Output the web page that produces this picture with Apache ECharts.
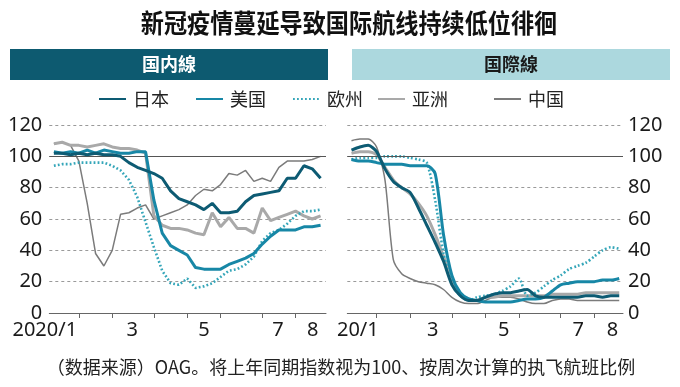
<!DOCTYPE html>
<html><head><meta charset="utf-8">
<script src="https://cdn.jsdelivr.net/npm/echarts@6/dist/echarts.min.js"></script>
<style>html,body{margin:0;padding:0;background:#fff}#c{width:680px;height:387px}</style>
</head><body><div id="c"></div>
<script>
// weekly data points (Monday weeks), index 0 = 2020/1/13 ... index 32 = 2020/8/24
const weeks = ['1/13','1/20','1/27','2/3','2/10','2/17','2/24','3/2','3/9','3/16','3/23','3/30','4/6','4/13','4/20','4/27','5/4','5/11','5/18','5/25','6/1','6/8','6/15','6/22','6/29','7/6','7/13','7/20','7/27','8/3','8/10','8/17','8/24'];
const seriesNames = ['日本','美国','欧州','亚洲','中国'];

// 国内線
const domJapan = [102,102,101,102,101,102,101,101,100,96,93,91,89,86,78,73,71,69,66,70,64,64,65,71,75,76,77,78,86,86,94,92,86];
const domUS    = [103,102,103,102,104,102,104,103,102,102,103,103,72,51,43,40,37,29,28,28,28,31,33,35,38,44,49,53,53,53,55,55,56];
const domEU    = [94,95,95,96,96,96,96,94,91,85,74,58,42,27,19,18,22,16,17,19,23,27,28,31,36,46,51,53,57,62,65,65,66];
const domAsia  = [108,109,107,107,106,107,108,106,105,105,104,102,62,56,54,54,53,51,50,64,55,61,54,54,51,67,59,61,63,65,62,60,62];
const domChina = [108,109,107,97,70,38,30,40,63,64,67,69,60,62,64,66,69,75,79,78,82,89,88,91,84,86,84,93,97,97,97,98,100];

// 国際線
const intJapan = [104,106,107,103,92,84,80,77,67,56,45,33,18,11,8,8,10,12,13,13,14,15,11,10,10,10,10,10,11,11,10,11,11];
const intUS    = [98,97,97,96,95,95,95,94,94,94,89,50,24,13,9,8,7,7,7,7,8,9,9,10,14,18,19,20,20,20,21,21,22];
const intEU    = [98,99,99,99,100,100,100,99,98,96,72,38,19,11,8,10,11,12,14,17,22,11,13,17,21,24,28,30,32,36,40,42,41];
const intAsia  = [102,103,103,101,93,85,80,76,70,62,50,36,22,12,9,8,10,10,11,11,11,11,11,11,12,12,12,12,13,13,13,13,13];
const intChina = [110,111,111,106,85,34,25,22,20,19,18,15,10,7,6,6,8,10,10,10,9,7,6,6,8,9,9,8,8,8,8,8,8];

// month boundary ticks (first week of Feb..Aug) and month labels
const monthTickIdx = [3,7,12,16,20,25,29];
const labelsL = ['2020/1','3','5','7','8'];
const labelPosL = [-0.55,9.4,18.0,26.9,31.05];
const labelsR = ['20/1','3','5','7','8'];
const labelPosR = [0.76,9.7,18.2,27.1,31.2];
const yTicks = [0,20,40,60,80,100,120];
const baseline = 100;

const colors = {'日本':'#0d5b73','美国':'#1787a6','欧州':'#35a6b9','亚洲':'#a9a9a9','中国':'#7b7b7b'};
const styles = {
  '日本':{width:3},
  '美国':{width:3},
  '欧州':{width:2.6,type:[1.8,2.2]},
  '亚洲':{width:3},
  '中国':{width:1.5}
};

function pts(arr){ return arr.map((v,i)=>[i,v]); }

const chart = echarts.init(document.getElementById('c'), null, {renderer:'canvas'});

const numFont = 'Noto Sans';
const cjk = '"Noto Sans CJK SC"';

function xAxis(grid, min, max, labels, pos){
  return {
    type:'value', gridIndex:grid, min:min, max:max,
    axisLine:{show:true, onZero:false, lineStyle:{color:'#666', width:1}},
    axisTick:{show:true, customValues:monthTickIdx, length:5, lineStyle:{color:'#666', width:1}},
    axisLabel:{show:true, customValues:pos, margin:7, fontSize:20, color:'#1a1a1a', fontFamily:numFont,
      formatter:function(v){ const k = pos.indexOf(v); const t = k>=0?labels[k]:''; return k===0 && grid===0 ? '{s|'+t+'}' : t; },
      rich:{s:{fontSize:20, color:'#1a1a1a', fontFamily:numFont, padding:[0,9,0,0]}}},
    splitLine:{show:false}
  };
}
function yAxis(grid, side, margin){
  return {
    type:'value', gridIndex:grid, min:yTicks[0], max:yTicks[yTicks.length-1], interval:20, position:side,
    axisLine:{show:false}, axisTick:{show:false},
    axisLabel:{fontSize:20, color:'#1a1a1a', fontFamily:numFont, margin:margin},
    splitLine:{show:true, lineStyle:{color:'#9a9a9a', width:1, type:[3,3]}}
  };
}

const order = ['中国','亚洲','欧州','美国','日本'];
const dom = {'日本':domJapan,'美国':domUS,'欧州':domEU,'亚洲':domAsia,'中国':domChina};
const intl = {'日本':intJapan,'美国':intUS,'欧州':intEU,'亚洲':intAsia,'中国':intChina};

const series = [];
[0,1].forEach(g=>{
  const src = g===0?dom:intl;
  order.forEach((n,k)=>{
    const s = {
      name:n, type:'line', xAxisIndex:g, yAxisIndex:g, data:pts(src[n]),
      symbol:'none', smooth:g===1?0.25:false, animation:false,
      lineStyle:Object.assign({color:colors[n]}, styles[n]),
      itemStyle:{color:colors[n]}, z:2+k
    };
    if(k===0){
      s.markLine = {silent:true, symbol:'none', animation:false, label:{show:false},
        lineStyle:{color:'#555', width:1.2, type:'solid'}, data:[{yAxis:baseline}]};
    }
    series.push(s);
  });
});

const legendLeft = [98,195,292,377,493];
const legends = seriesNames.map((n,i)=>({
  data:[n], left:legendLeft[i], top:90, padding:0, itemWidth:27, itemHeight:2, selectedMode:false,
  itemStyle:{opacity:0, borderWidth:0},
  textStyle:{fontSize:18, color:'#222', fontFamily:cjk, padding:[0,0,0,2]}
}));

chart.setOption({
  backgroundColor:'#fff',
  animation:false,
  legend:legends,
  grid:[
    {left:49.3, top:125, width:276.7, height:188},
    {left:347.3, top:125, width:275.7, height:188}
  ],
  xAxis:[xAxis(0,-0.55,32.65,labelsL,labelPosL), xAxis(1,-0.5,32.45,labelsR,labelPosR)],
  yAxis:[yAxis(0,'left',7), yAxis(1,'right',5)],
  series:series,
  graphic:[
    {type:'text', x:349, y:23, scaleX:0.89, style:{text:'新冠疫情蔓延导致国际航线持续低位徘徊', font:'bold 26px '+cjk, fill:'#111', textAlign:'center', textVerticalAlign:'middle'}},
    {type:'rect', shape:{x:10, y:49, width:318, height:31}, style:{fill:'#0d5a70'}},
    {type:'text', x:169, y:64.5, style:{text:'国内線', font:'bold 18px '+cjk, fill:'#fff', textAlign:'center', textVerticalAlign:'middle'}},
    {type:'rect', shape:{x:352, y:49, width:318, height:31}, style:{fill:'#acd8de'}},
    {type:'text', x:511, y:64.5, style:{text:'国際線', font:'bold 18px '+cjk, fill:'#1a1a1a', textAlign:'center', textVerticalAlign:'middle'}},
    {type:'text', x:341, y:367, style:{text:'（数据来源）OAG。将上年同期指数视为100、按周次计算的执飞航班比例', font:'18px '+cjk, fill:'#222', textAlign:'center', textVerticalAlign:'middle'}}
  ]
});
</script>
</body></html>
